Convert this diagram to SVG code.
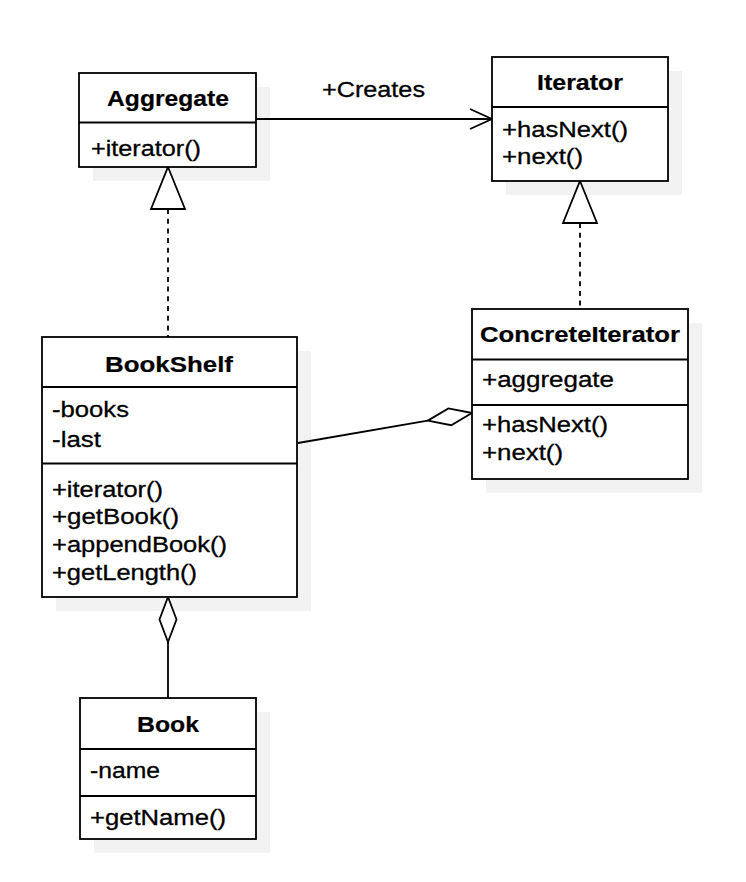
<svg xmlns="http://www.w3.org/2000/svg" width="746" height="882" viewBox="0 0 746 882">
<defs>
<style>
.shadow{fill:#f2f2f2;stroke:none}
.box{fill:#ffffff;stroke:#000000;stroke-width:1.8}
.div{stroke:#000000;stroke-width:1.8;fill:none}
.t{font-family:"Liberation Sans",Arial,Helvetica,sans-serif;font-size:21.5px;fill:#000000;stroke:#000000;stroke-width:0.3}
.b{font-weight:bold;stroke-width:0.2}
.edge{stroke:#000000;stroke-width:1.8;fill:none}
.dash{stroke-dasharray:5 4.7}
.head{fill:#ffffff;stroke:#000000;stroke-width:1.8;stroke-linejoin:miter}
</style>
</defs>
<rect width="746" height="882" fill="#ffffff"/>

<g id="shadows">
<rect class="shadow" x="93" y="87" width="177" height="94"/>
<rect class="shadow" x="506" y="71" width="176" height="124"/>
<rect class="shadow" x="486" y="323" width="216" height="170"/>
<rect class="shadow" x="56" y="351" width="255" height="260"/>
<rect class="shadow" x="94" y="712" width="176" height="141"/>
</g>

<g id="connectors">
<line class="edge" x1="256" y1="119" x2="491" y2="119"/>
<polyline class="edge" points="470,109 492,119 470,129"/>
<line class="edge dash" x1="168" y1="209" x2="168" y2="337"/>
<line class="edge dash" x1="580" y1="223" x2="580" y2="309"/>
<polygon class="head" points="168,167 185,209 151,209"/>
<polygon class="head" points="580,181 597,223 563,223"/>
<line class="edge" x1="298" y1="443" x2="427.7" y2="420.6"/>
<polygon class="head" points="472,413 448.4,408.4 427.7,420.6 451.2,425.2"/>
<line class="edge" x1="168" y1="642" x2="168" y2="698"/>
<polygon class="head" points="168,597 176.5,619.5 168,642 159.5,619.5"/>
<text class="t" x="322" y="97" textLength="103" lengthAdjust="spacingAndGlyphs">+Creates</text>
</g>

<g id="Aggregate">
<rect class="box" x="79" y="73" width="177" height="94"/>
<line class="div" x1="79" y1="122.5" x2="256" y2="122.5"/>
<text class="t b" x="107" y="106" textLength="122" lengthAdjust="spacingAndGlyphs">Aggregate</text>
<text class="t" x="91" y="156" textLength="110" lengthAdjust="spacingAndGlyphs">+iterator()</text>
</g>

<g id="Iterator">
<rect class="box" x="492" y="57" width="176" height="124"/>
<line class="div" x1="492" y1="107" x2="668" y2="107"/>
<text class="t b" x="537" y="90" textLength="86" lengthAdjust="spacingAndGlyphs">Iterator</text>
<text class="t" x="502" y="137" textLength="126" lengthAdjust="spacingAndGlyphs">+hasNext()</text>
<text class="t" x="502" y="164" textLength="81" lengthAdjust="spacingAndGlyphs">+next()</text>
</g>

<g id="ConcreteIterator">
<rect class="box" x="472" y="309" width="216" height="170"/>
<line class="div" x1="472" y1="359.5" x2="688" y2="359.5"/>
<line class="div" x1="472" y1="405" x2="688" y2="405"/>
<text class="t b" x="480" y="342" textLength="200" lengthAdjust="spacingAndGlyphs">ConcreteIterator</text>
<text class="t" x="482" y="387" textLength="132" lengthAdjust="spacingAndGlyphs">+aggregate</text>
<text class="t" x="482" y="432" textLength="126" lengthAdjust="spacingAndGlyphs">+hasNext()</text>
<text class="t" x="482" y="460" textLength="81" lengthAdjust="spacingAndGlyphs">+next()</text>
</g>

<g id="BookShelf">
<rect class="box" x="42" y="337" width="255" height="260"/>
<line class="div" x1="42" y1="387" x2="297" y2="387"/>
<line class="div" x1="42" y1="463.5" x2="297" y2="463.5"/>
<text class="t b" x="105" y="372" textLength="128" lengthAdjust="spacingAndGlyphs">BookShelf</text>
<text class="t" x="52" y="417" textLength="77" lengthAdjust="spacingAndGlyphs">-books</text>
<text class="t" x="52" y="447" textLength="49" lengthAdjust="spacingAndGlyphs">-last</text>
<text class="t" x="52" y="497" textLength="111" lengthAdjust="spacingAndGlyphs">+iterator()</text>
<text class="t" x="52" y="524" textLength="127" lengthAdjust="spacingAndGlyphs">+getBook()</text>
<text class="t" x="52" y="552" textLength="175" lengthAdjust="spacingAndGlyphs">+appendBook()</text>
<text class="t" x="52" y="580" textLength="145" lengthAdjust="spacingAndGlyphs">+getLength()</text>
</g>

<g id="Book">
<rect class="box" x="80" y="698" width="176" height="141"/>
<line class="div" x1="80" y1="749" x2="256" y2="749"/>
<line class="div" x1="80" y1="796" x2="256" y2="796"/>
<text class="t b" x="137" y="732" textLength="62" lengthAdjust="spacingAndGlyphs">Book</text>
<text class="t" x="90" y="778" textLength="70" lengthAdjust="spacingAndGlyphs">-name</text>
<text class="t" x="90" y="825" textLength="136" lengthAdjust="spacingAndGlyphs">+getName()</text>
</g>
</svg>
